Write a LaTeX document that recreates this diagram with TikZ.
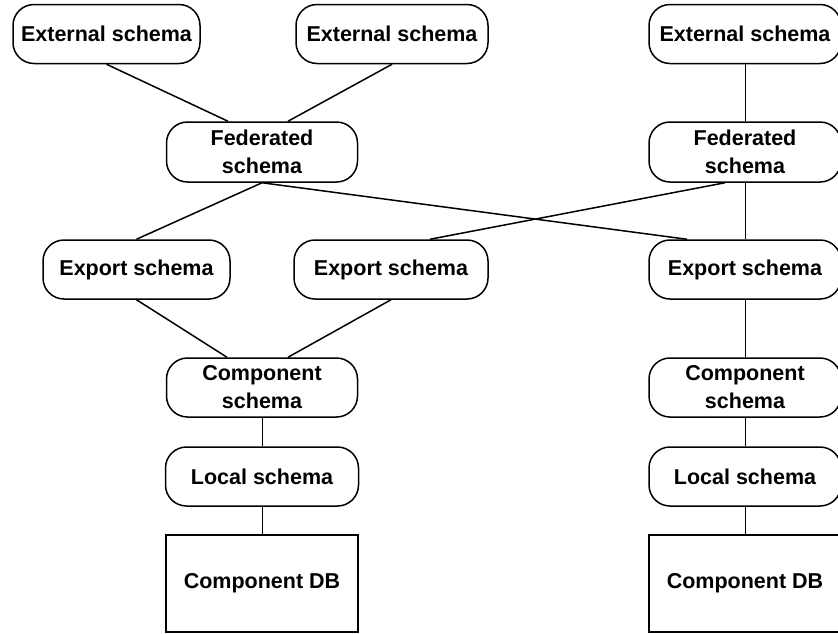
\documentclass[tikz,border=0pt]{standalone}
\usepackage{fontspec}
\setmainfont{Liberation Sans}
\usetikzlibrary{calc}

\begin{document}
\begin{tikzpicture}[x=1pt,y=-1pt,
  schemabox/.style={draw, line width=1.5pt, rounded corners=21pt, inner sep=0pt,
    minimum height=59pt, align=center,
    font=\fontsize{21.5}{28}\selectfont\bfseries},
  dbbox/.style={draw, line width=1.5pt, inner sep=0pt, minimum height=97pt,
    font=\fontsize{21.5}{28}\selectfont\bfseries},
  link/.style={line width=1.5pt},
  vlink/.style={line width=1pt}]

  % page area
  \path[fill=white, use as bounding box] (0,0) rectangle (838,633);

  % top row: external schemas
  \node[schemabox, minimum width=187pt] (ext1) at (106.5,34) {External schema};
  \node[schemabox, minimum width=192pt] (ext2) at (392,34) {External schema};
  \node[schemabox, minimum width=192pt] (ext3) at (745,34) {External schema};

  % federated schemas
  \node[schemabox, minimum width=191pt, minimum height=60pt] (fed1) at (262,152) {Federated\\schema};
  \node[schemabox, minimum width=192pt, minimum height=60pt] (fed2) at (745,152) {Federated\\schema};

  % export schemas
  \node[schemabox, minimum width=187pt] (exp1) at (136.5,269.5) {Export schema};
  \node[schemabox, minimum width=194pt] (exp2) at (391,269.5) {Export schema};
  \node[schemabox, minimum width=192pt] (exp3) at (745,269.5) {Export schema};

  % component schemas
  \node[schemabox, minimum width=191pt] (comp1) at (262,387.5) {Component\\schema};
  \node[schemabox, minimum width=192pt] (comp2) at (745,387.5) {Component\\schema};

  % local schemas
  \node[schemabox, minimum width=193pt] (loc1) at (262,476.5) {Local schema};
  \node[schemabox, minimum width=192pt] (loc2) at (745,476.5) {Local schema};

  % component databases
  \node[dbbox, minimum width=192pt] (db1) at (262,583.5) {Component DB};
  \node[dbbox, minimum width=192pt] (db2) at (745,583.5) {Component DB};

  % external -> federated
  \draw[link] (ext1.south) -- ($(fed1.north)+(-34,0)$);
  \draw[link] (ext2.south) -- ($(fed1.north)+(26,0)$);
  \draw[vlink] (ext3.south) -- (fed2.north);

  % federated -> export
  \draw[link] (fed1.south) -- (exp1.north);
  \draw[link] (fed1.south) -- ($(exp3.north)+(-58,0)$);
  \draw[link] ($(fed2.south)+(-20,0)$) -- ($(exp2.north)+(39,0)$);
  \draw[vlink] (fed2.south) -- (exp3.north);

  % export -> component
  \draw[link] (exp1.south) -- ($(comp1.north)+(-35,0)$);
  \draw[link] (exp2.south) -- ($(comp1.north)+(26,0)$);
  \draw[vlink] (exp3.south) -- (comp2.north);

  % component -> local -> database
  \draw[vlink] (comp1.south) -- (loc1.north);
  \draw[vlink] (loc1.south) -- (db1.north);
  \draw[vlink] (comp2.south) -- (loc2.north);
  \draw[vlink] (loc2.south) -- (db2.north);
\end{tikzpicture}
\end{document}
